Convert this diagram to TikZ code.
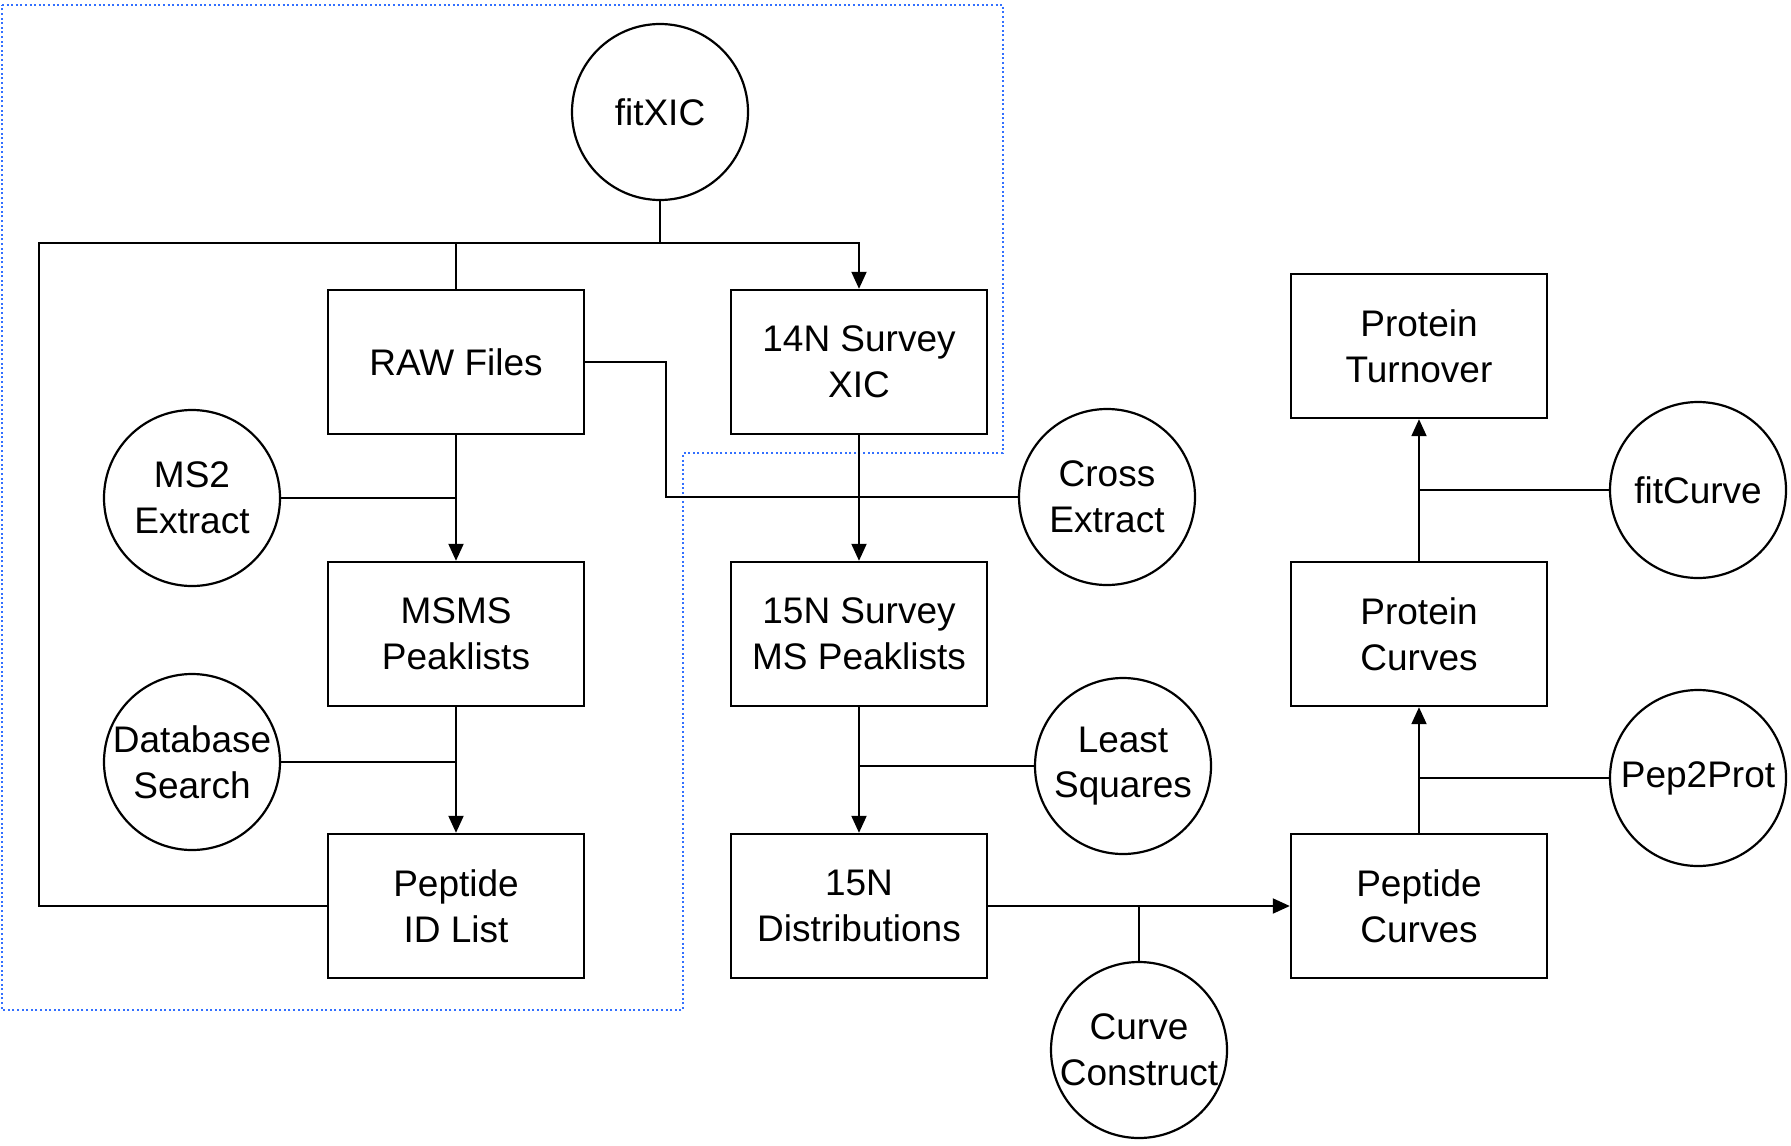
\documentclass[tikz,border=0pt]{standalone}
\usepackage{fontspec}
\setmainfont{Liberation Sans}
\usetikzlibrary{arrows.meta}
\begin{document}
\begin{tikzpicture}[x=0.5pt,y=-0.5pt,
  box/.style={draw,line width=1.2pt,minimum width=128pt,minimum height=72pt,inner sep=0pt,align=center,font=\fontsize{18.5}{22.8}\selectfont},
  proc/.style={draw,circle,line width=1.1pt,minimum size=88pt,inner sep=0pt,align=center,font=\fontsize{18.5}{22.8}\selectfont},
  conn/.style={line width=1pt},
  arr/.style={line width=1pt,-{Triangle[length=8.5pt,width=7.5pt]}},
  region/.style={draw=blue!70!cyan!80,dash pattern=on 1pt off 1.3pt,line width=1.1pt}]
\useasboundingbox (0,0) rectangle (1791,1145);
% dotted region
\draw[region] (2,5) -- (1003,5) -- (1003,453) -- (683,453) -- (683,1010) -- (2,1010) -- cycle;
% nodes
\node[proc] (fitxic) at (660,112) {fitXIC};
\node[box] (raw) at (456,362) {RAW Files};
\node[box] (n14) at (859,362) {14N Survey\\XIC};
\node[proc] (ms2) at (192,498) {MS2\\Extract};
\node[box] (msms) at (456,634) {MSMS\\Peaklists};
\node[proc] (db) at (192,762) {Database\\Search};
\node[box] (pepid) at (456,906) {Peptide\\ID List};
\node[proc] (cross) at (1107,497) {Cross\\Extract};
\node[box] (n15) at (859,634) {15N Survey\\MS Peaklists};
\node[proc] (lsq) at (1123,766) {Least\\Squares};
\node[box] (dist) at (859,906) {15N\\Distributions};
\node[proc] (cc) at (1139,1050) {Curve\\Construct};
\node[box] (pepc) at (1419,906) {Peptide\\Curves};
\node[box] (protc) at (1419,634) {Protein\\Curves};
\node[box] (prott) at (1419,346) {Protein\\Turnover};
\node[proc] (fitc) at (1698,490) {fitCurve};
\node[proc] (p2p) at (1698,778) {Pep2Prot};
% junction coordinates
\coordinate (j1) at (660,243);
\coordinate (tl) at (39,243);
\coordinate (rb) at (666,497);
% connectors
\draw[conn] (fitxic.south) -- (j1);
\draw[arr] (j1) -| (n14.north);
\draw[conn] (j1) -- (tl) |- (pepid.west);
\draw[conn] (raw.north) -- (raw.north |- j1);
\draw[conn] (raw.east) -| (rb) -- (cross.west);
\draw[arr] (raw.south) -- (msms.north);
\draw[conn] (ms2.east) -- (ms2.east -| raw.south);
\draw[arr] (msms.south) -- (pepid.north);
\draw[conn] (db.east) -- (db.east -| msms.south);
\draw[arr] (n14.south) -- (n15.north);
\draw[arr] (n15.south) -- (dist.north);
\draw[conn] (lsq.west) -- (lsq.west -| n15.south);
\draw[arr] (dist.east) -- (pepc.west);
\draw[conn] (cc.north) -- (cc.north |- dist.east);
\draw[arr] (pepc.north) -- (protc.south);
\draw[conn] (p2p.west) -- (p2p.west -| pepc.north);
\draw[arr] (protc.north) -- (prott.south);
\draw[conn] (fitc.west) -- (fitc.west -| protc.north);
\end{tikzpicture}
\end{document}
